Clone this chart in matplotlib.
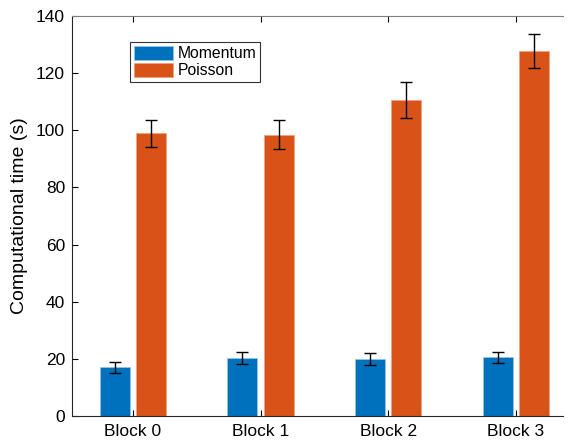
import matplotlib.pyplot as plt
import numpy as np

blocks = ["Block 0", "Block 1", "Block 2", "Block 3"]
momentum = [17.0, 20.3, 20.0, 20.5]
momentum_err = [1.9, 2.0, 2.0, 2.0]
poisson = [98.9, 98.5, 110.5, 127.8]
poisson_err = [4.6, 5.0, 6.3, 6.0]

plt.rcParams["font.family"] = ["Liberation Sans", "DejaVu Sans"]

fig = plt.figure(figsize=(5.69, 4.43), dpi=100)
ax = fig.add_axes([0.1265, 0.061, 0.863, 0.903])

x = np.arange(len(blocks))
width = 0.235
offset = 0.142
err_kw = dict(ecolor="black", elinewidth=1.0, capsize=4, capthick=1.0)
ax.bar(x - offset, momentum, width, yerr=momentum_err, color="#0072BD",
       edgecolor="#9cc3e6", linewidth=0.5, label="Momentum", error_kw=err_kw)
ax.bar(x + offset, poisson, width, yerr=poisson_err, color="#D95319",
       edgecolor="#f0a080", linewidth=0.5, label="Poisson", error_kw=err_kw)

ax.set_xlim(-0.477, 3.37)
ax.set_ylim(0, 140)
ax.set_xticks(x)
ax.set_xticklabels(blocks)
ax.set_yticks(np.arange(0, 141, 20))
ax.tick_params(direction="in", length=4, labelsize=12.5, width=0.8, top=True, right=False)
ax.tick_params(axis="x", pad=6)
ax.tick_params(axis="y", pad=5)
ax.set_ylabel("Computational time (s)", fontsize=14, labelpad=6)

ax.spines["right"].set_visible(False)
ax.spines["top"].set_color("#808080")
for s in ("left", "bottom"):
    ax.spines[s].set_color("#262626")
    ax.spines[s].set_linewidth(0.8)

leg = ax.legend(loc="upper left", bbox_to_anchor=(0.118, 0.935), fontsize=11.3,
                frameon=True, fancybox=False, borderpad=0.25, labelspacing=0.1,
                handlelength=2.5, handleheight=1.0, handletextpad=0.3, borderaxespad=0)
leg.get_frame().set_edgecolor("black")
leg.get_frame().set_linewidth(0.8)

fig.savefig("out.png", dpi=100)
